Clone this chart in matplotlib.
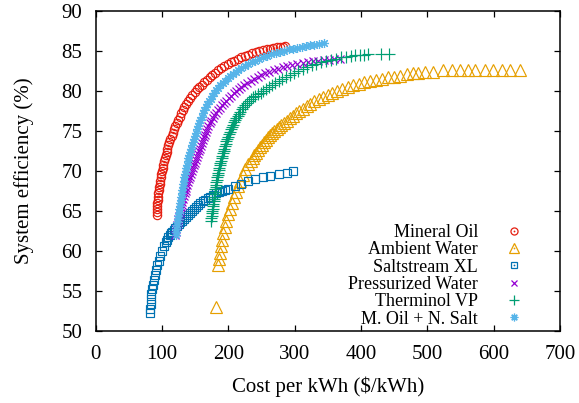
import matplotlib
matplotlib.use('Agg')
import matplotlib.pyplot as plt
from matplotlib.lines import Line2D

plt.rcParams['font.family'] = ['Liberation Serif', 'DejaVu Serif']

# ---------------- data ----------------
mineral_cost = [92, 92.2, 92.5, 92.8, 93, 93.5, 94, 94.5, 95, 95.7, 96.5, 97.2, 98, 99, 100, 101,
                102, 103.2, 104.5, 105.7, 107, 108.5, 110, 111.5, 113, 114.7, 116.5, 118.2, 120,
                122.2, 124.5, 126.7, 129, 131.5, 134, 137, 140, 143, 146, 149.5, 153, 156.5, 160,
                164, 168, 172, 176, 180.5, 185, 189.5, 194, 199, 204, 209, 214, 219.5, 225, 230.5,
                236, 241.5, 247, 252.5, 258, 263, 268, 273, 278, 282, 286]
mineral_eff = [64.5, 64.9, 65.2, 65.6, 66, 66.4, 66.8, 67.2, 67.6, 68, 68.4, 68.8, 69.2, 69.6, 70,
               70.4, 70.8, 71.2, 71.6, 72, 72.4, 72.8, 73.2, 73.6, 74, 74.4, 74.8, 75.2, 75.6, 76,
               76.4, 76.8, 77.2, 77.6, 78, 78.4, 78.8, 79.15, 79.5, 79.85, 80.2, 80.5, 80.8, 81.1,
               81.4, 81.7, 82, 82.3, 82.6, 82.85, 83.1, 83.35, 83.6, 83.8, 84, 84.2, 84.4, 84.55,
               84.7, 84.85, 85, 85.1, 85.2, 85.3, 85.4, 85.45, 85.5, 85.55, 85.6]

ambient_cost = [182, 185, 186, 187.5, 189, 190.5, 192.5, 194.5, 197, 199.5, 202, 205, 208, 211,
                214.5, 218, 222, 226, 230.5, 234, 237, 239.5, 242, 245, 248, 251, 254, 257, 260,
                263, 266, 269.5, 273, 276.5, 280, 284, 288, 292.5, 297, 302, 307, 312.5, 318, 324,
                330, 336.5, 343, 350, 357, 364.5, 372, 380, 388, 396.5, 405, 414, 423, 432, 441,
                450, 459, 469, 478, 486, 497, 509, 524, 537, 549, 561, 572, 587, 599, 612, 625, 639]
ambient_eff = [53, 58.2, 59, 59.8, 60.6, 61.4, 62.2, 63, 63.8, 64.6, 65.3, 66, 66.7, 67.4,
               68.1, 68.8, 69.5, 70.2, 70.9, 71.3, 71.6, 71.95, 72.3, 72.65, 73, 73.3, 73.6, 73.9,
               74.2, 74.45, 74.7, 74.95, 75.2, 75.45, 75.7, 76, 76.3, 76.6, 76.9, 77.2, 77.5, 77.8,
               78.1, 78.4, 78.7, 79, 79.3, 79.55, 79.8, 80.05, 80.3, 80.5, 80.7, 80.9, 81.1, 81.25,
               81.4, 81.55, 81.7, 81.8, 81.9, 82.1, 82.2, 82.3, 82.35, 82.4, 82.6, 82.6, 82.6, 82.6,
               82.6, 82.6, 82.6, 82.6, 82.6, 82.6]

salt_cost = [82, 82.5, 83, 83.5, 84, 85, 86, 87.5, 89, 91, 93, 95, 97.5, 100, 103, 106, 108, 110,
             112, 114, 116, 118, 120.5, 123, 125.5, 128, 130.5, 133, 136, 139, 142, 145, 148, 151,
             154.5, 158, 161.5, 165, 169, 173, 177.5, 182, 186.5, 191, 195.5, 200, 210, 220, 230,
             241, 252, 263, 276, 288, 298]
salt_eff = [52.2, 52.8, 53.4, 54, 54.6, 55.2, 55.8, 56.4, 57, 57.6, 58.2, 58.8, 59.4, 60, 60.6, 61.1,
            61.4, 61.7, 61.95, 62.2, 62.4, 62.6, 62.85, 63.1, 63.35, 63.6, 63.8, 64, 64.25, 64.5,
            64.75, 65, 65.25, 65.5, 65.75, 66, 66.2, 66.4, 66.6, 66.8, 67, 67.2, 67.35, 67.5, 67.65,
            67.8, 68.1, 68.4, 68.7, 69, 69.2, 69.4, 69.6, 69.8, 70]

press_cost = [120, 121, 122, 123, 124, 125, 126, 127, 128, 129, 130, 131, 132, 133.2, 134.5, 135.7,
              137, 138.2, 139.5, 140.7, 142, 143.5, 145, 146.5, 148, 149.5, 151, 152.5, 154, 155.5,
              157, 158.5, 160, 161.5, 163, 164.5, 166, 168, 170, 172, 174, 176.5, 179, 181.5, 184,
              187, 190, 193.5, 197, 200.5, 204, 208, 212, 216, 220, 224.5, 229, 234, 239, 244.5,
              250, 256, 262, 268.5, 275, 282, 289, 296.5, 304, 312, 320, 328, 336, 344, 352, 360, 368]
press_eff = [62, 62.4, 62.8, 63.2, 63.6, 64, 64.4, 64.75, 65.1, 65.45, 65.8, 66.15, 66.5, 66.85,
             67.2, 67.55, 67.9, 68.25, 68.6, 68.95, 69.3, 69.65, 70, 70.35, 70.7, 71.05, 71.4, 71.75,
             72.1, 72.45, 72.8, 73.15, 73.5, 73.85, 74.2, 74.55, 74.9, 75.25, 75.6, 75.95, 76.3,
             76.65, 77, 77.3, 77.6, 77.9, 78.2, 78.5, 78.8, 79.1, 79.4, 79.7, 80, 80.25, 80.5, 80.75,
             81, 81.25, 81.5, 81.75, 82, 82.2, 82.4, 82.6, 82.8, 82.95, 83.1, 83.25, 83.4, 83.5,
             83.6, 83.7, 83.8, 83.85, 83.9, 83.95, 84.0]

therm_cost = [174, 174.5, 175, 175.5, 176, 176.5, 177, 177.5, 178, 178.5, 179, 179.5, 180, 180.5,
              181, 181.5, 182, 182.7, 183.5, 184.2, 185, 185.7, 186.5, 187.2, 188, 189, 190, 191,
              192, 193, 194, 195, 196, 197.2, 198.5, 199.7, 201, 202.5, 204, 205.5, 207, 208.7,
              210.5, 212.2, 214, 216, 218, 220.5, 223, 225.5, 228, 231, 234, 237.5, 241, 245, 249,
              253, 257, 261.5, 266, 271, 276, 281.5, 287, 293, 299, 305.5, 312, 319, 326, 333, 340,
              347.5, 355, 362.5, 370, 377.5, 385, 391.5, 398, 404, 410, 431, 443]
therm_eff = [63.8, 64.1, 64.4, 64.7, 65, 65.3, 65.6, 65.9, 66.2, 66.5, 66.8, 67.1, 67.4, 67.7, 68,
             68.3, 68.6, 68.9, 69.2, 69.5, 69.8, 70.1, 70.4, 70.7, 71, 71.3, 71.6, 71.9, 72.2, 72.5,
             72.8, 73.1, 73.4, 73.7, 74, 74.3, 74.6, 74.9, 75.2, 75.5, 75.8, 76.1, 76.4, 76.65,
             76.9, 77.15, 77.4, 77.7, 78, 78.25, 78.5, 78.75, 79, 79.2, 79.4, 79.6, 79.8, 80.05,
             80.3, 80.55, 80.8, 81.05, 81.3, 81.55, 81.8, 82.05, 82.3, 82.55, 82.8, 83, 83.2, 83.4,
             83.6, 83.75, 83.9, 84.05, 84.2, 84.3, 84.4, 84.45, 84.5, 84.55, 84.6, 84.6, 84.6]

moil_cost = [121, 121.5, 122, 122.5, 123, 123.7, 124.5, 125.2, 126, 126.7, 127.5, 128.2, 129, 129.7,
             130.5, 131.2, 132, 133, 134, 135, 136, 137, 138, 139, 140, 141.2, 142.5, 143.7, 145,
             146.5, 148, 149.5, 151, 152.7, 154.5, 156.2, 158, 160, 162, 164.2, 166.5, 168.7, 171,
             173.5, 176, 179, 182, 185, 188, 191.5, 195, 199, 203, 207, 211, 215.5, 220, 225, 230,
             235.5, 241, 247, 253, 259, 265, 271.5, 278, 284.5, 291, 297.5, 304, 310.5, 317, 323.5,
             330, 337.5, 345]
moil_eff = [62, 62.4, 62.8, 63.2, 63.6, 64, 64.4, 64.8, 65.2, 65.6, 66, 66.4, 66.8, 67.2, 67.6, 68,
            68.4, 68.8, 69.2, 69.6, 70, 70.4, 70.8, 71.2, 71.6, 72, 72.4, 72.8, 73.2, 73.6, 74, 74.4,
            74.8, 75.2, 75.6, 76, 76.4, 76.8, 77.2, 77.6, 78, 78.35, 78.7, 79.05, 79.4, 79.75, 80.1,
            80.4, 80.7, 81, 81.3, 81.6, 81.9, 82.15, 82.4, 82.65, 82.9, 83.15, 83.4, 83.6, 83.8, 84,
            84.2, 84.4, 84.6, 84.75, 84.9, 85.05, 85.2, 85.3, 85.4, 85.5, 85.6, 85.7, 85.8, 85.9, 86.0]

labels = ['Mineral Oil', 'Ambient Water', 'Saltstream XL', 'Pressurized Water',
          'Therminol VP', 'M. Oil + N. Salt']
xticks = [0, 100, 200, 300, 400, 500, 600, 700]
yticks = [50, 55, 60, 65, 70, 75, 80, 85, 90]

# ---------------- styles ----------------
series = [
    (mineral_cost, mineral_eff, '#E51E10', 'o', 6.0, True),
    (ambient_cost, ambient_eff, '#E69F00', '^', 8.0, True),
    (salt_cost, salt_eff, '#0072B2', 's', 5.4, True),
    (press_cost, press_eff, '#9400D3', 'x', 5.6, False),
    (therm_cost, therm_eff, '#009E73', '+', 8.0, False),
    (moil_cost, moil_eff, '#56B4E9', (8, 2, 0), 6.5, False),
]

fig = plt.figure(figsize=(5.79, 4.03), dpi=100)
ax = fig.add_axes([95.5 / 579, 72 / 403, (560 - 95.5) / 579, 320 / 403])

handles = []
for (xs, ys, col, mk, ms, hollow), lab in zip(series, labels):
    if hollow:
        ax.plot(xs, ys, linestyle='none', marker=mk, ms=ms, mfc='none', mec=col, mew=0.85)
        h = (Line2D([], [], linestyle='none', marker=mk, ms=ms * 0.85, mfc='none', mec=col, mew=0.9),
             Line2D([], [], linestyle='none', marker='o', ms=1.3, mfc=col, mec=col, mew=0))
    else:
        ax.plot(xs, ys, linestyle='none', marker=mk, ms=ms, color=col, mew=0.85)
        h = Line2D([], [], linestyle='none', marker=mk, ms=ms * 0.85, color=col, mew=0.9)
    handles.append(h)

ax.set_xlim(0, 700)
ax.set_ylim(50, 90)
ax.set_xticks(xticks)
ax.set_yticks(yticks)
ax.tick_params(direction='in', length=4.5, width=0.9, top=True, right=True,
               labelsize=15, colors='black')
ax.tick_params(axis='x', pad=10)
ax.tick_params(axis='y', pad=9.5)
for s in ax.spines.values():
    s.set_linewidth(1.1)

ax.set_xlabel('Cost per kWh ($/kWh)', fontsize=15, labelpad=9)
ax.set_ylabel('System efficiency (%)', fontsize=15, labelpad=20)

leg = ax.legend(handles, labels, loc='lower right', markerfirst=False, frameon=False,
                fontsize=13, numpoints=1, handlelength=1.6, handletextpad=1.2,
                labelspacing=0.02, borderaxespad=0,
                bbox_to_anchor=((536 - 95.5) / 464.5, (331 - 335) / 320))

fig.savefig('out.png', dpi=100)
